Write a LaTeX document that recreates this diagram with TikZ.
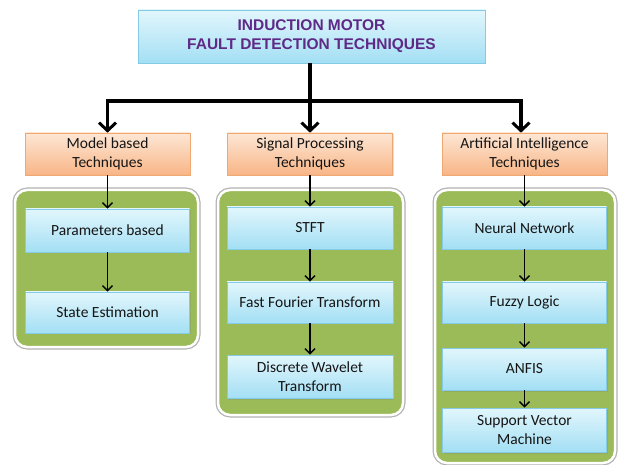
\documentclass[tikz,border=0pt]{standalone}
\usepackage{fontspec}
\setmainfont{Carlito}
\newfontfamily\titlefont{Liberation Sans}
\usetikzlibrary{arrows.meta,shadows}
\definecolor{panelgreen}{HTML}{9BBB59}
\definecolor{bluetop}{HTML}{E2F6FC}
\definecolor{bluebot}{HTML}{A3DFF4}
\definecolor{blueedge}{HTML}{86CBE5}
\definecolor{orangetop}{HTML}{FDE7D5}
\definecolor{orangebot}{HTML}{F8B586}
\definecolor{orangeedge}{HTML}{F0A873}
\definecolor{titlepurple}{HTML}{5E2A86}
\definecolor{txt}{HTML}{151515}
\tikzset{
  mainbox/.style={rectangle, draw=blueedge, line width=0.8pt, top color=bluetop, bottom color=bluebot,
    minimum width=347pt, minimum height=53pt, align=center, inner sep=2pt,
    font=\titlefont\bfseries\fontsize{15.5}{19}\selectfont, text=titlepurple,
    drop shadow={shadow xshift=1pt, shadow yshift=-1.5pt, opacity=0.25}},
  catbox/.style={rectangle, draw=orangeedge, line width=0.6pt, top color=orangetop, bottom color=orangebot,
    minimum width=165pt, minimum height=42pt, align=center, inner sep=2pt,
    font=\fontsize{15.5}{19}\selectfont, text=txt,
    drop shadow={shadow xshift=1pt, shadow yshift=-1.5pt, opacity=0.25}},
  itembox/.style={rectangle, draw=blueedge, line width=0.6pt, top color=bluetop, bottom color=bluebot,
    minimum width=165pt, minimum height=42pt, align=center, inner sep=2pt,
    font=\fontsize{15.5}{19}\selectfont, text=txt,
    drop shadow={shadow xshift=1pt, shadow yshift=-1.5pt, opacity=0.25}},
  panel/.style={rectangle, rounded corners=12pt, fill=panelgreen, draw=white, line width=2.5pt,
    preaction={draw=black!30, line width=5pt}},
  mainarrow/.style={line width=3.5pt, -{Straight Barb[length=8pt,width=17pt,line width=3pt]}},
  thinarrow/.style={line width=1.5pt, -{Straight Barb[length=5pt,width=10pt,line width=1.5pt]}}
}
\begin{document}
\begin{tikzpicture}[x=1pt,y=-1pt]
\useasboundingbox (0,0) rectangle (619,465);
\fill[white] (0,0) rectangle (619,465);

% panels
\node[panel, minimum width=183pt, minimum height=157pt] (P1) at (106.5,268.5) {};
\node[panel, minimum width=185pt, minimum height=225pt] (P2) at (310.5,302.5) {};
\node[panel, minimum width=180pt, minimum height=273pt] (P3) at (525,326.5) {};

% title
\node[mainbox] (top) at (311.5,36.5) {INDUCTION MOTOR\\FAULT DETECTION TECHNIQUES};

% categories
\node[catbox] (MB) at (107.5,154) {Model based\\Techniques};
\node[catbox] (SP) at (310,154) {Signal Processing\\Techniques};
\node[catbox] (AI) at (524.5,154) {Artificial Intelligence\\Techniques};

% items
\node[itembox, minimum width=164pt, minimum height=43pt] (PB) at (107.5,230.5) {Parameters based};
\node[itembox, minimum width=164pt, minimum height=41pt] (SE) at (107.5,312.5) {State Estimation};

\node[itembox, minimum width=166pt] (ST) at (310,228) {STFT};
\node[itembox, minimum width=166pt, minimum height=41pt] (FFT) at (310,302.5) {Fast Fourier Transform};
\node[itembox, minimum width=166pt, minimum height=43pt] (DWT) at (310,376.5) {Discrete Wavelet\\Transform};

\node[itembox, minimum width=164pt] (NN) at (524.5,228) {Neural Network};
\node[itembox, minimum width=164pt, minimum height=41pt] (FL) at (524.5,302.5) {Fuzzy Logic};
\node[itembox, minimum width=164pt] (AN) at (524.5,369) {ANFIS};
\node[itembox, minimum width=164pt, minimum height=44pt] (SVM) at (524.5,430) {Support Vector\\Machine};

% main connectors
\coordinate (hub) at (310,101);
\coordinate (hl) at (107.5,101);
\coordinate (hr) at (521,101);
\draw[line width=3.5pt] (top.south -| hub) -- (hub);
\draw[mainarrow] (hub) -- (SP.north);
\draw[mainarrow] (hub) -- (hl) -- (MB.north);
\draw[mainarrow] (hub) -- (hr) -- (hr |- AI.north);

% thin connectors
\draw[thinarrow] (MB.south) -- (PB.north);
\draw[thinarrow] (PB.south) -- (SE.north);
\draw[thinarrow] (SP.south) -- (ST.north);
\draw[thinarrow] (ST.south) -- (FFT.north);
\draw[thinarrow] (FFT.south) -- (DWT.north);
\draw[thinarrow] (AI.south) -- (NN.north);
\draw[thinarrow] (NN.south) -- (FL.north);
\draw[thinarrow] (FL.south) -- (AN.north);
\draw[thinarrow] (AN.south) -- (SVM.north);
\end{tikzpicture}
\end{document}
